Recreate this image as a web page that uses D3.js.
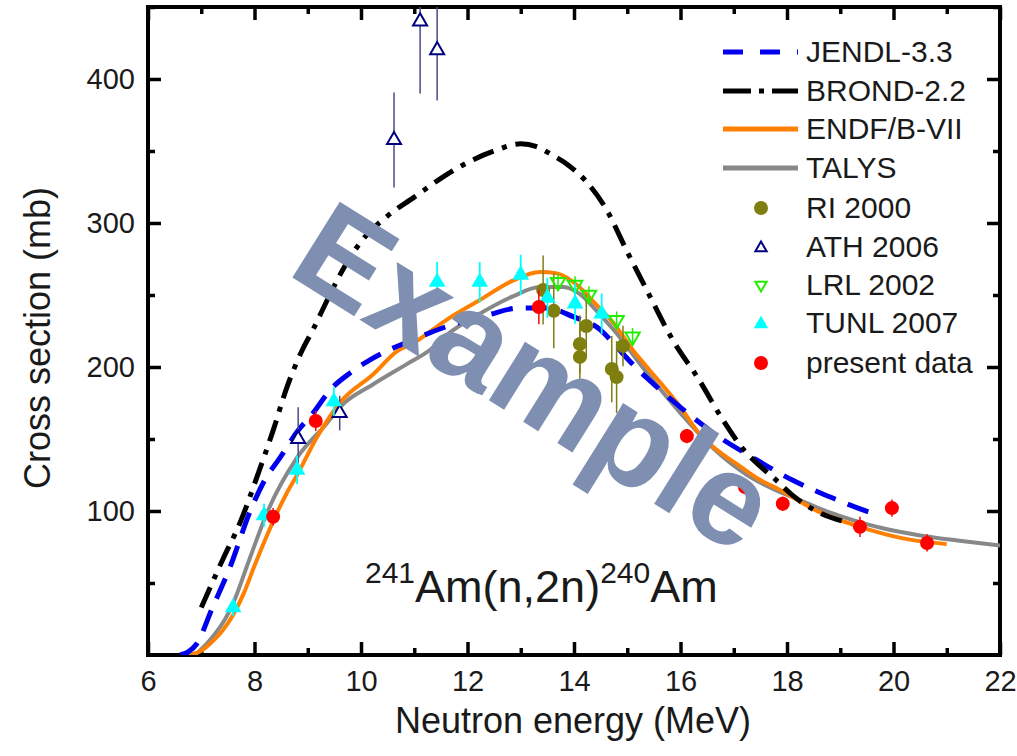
<!DOCTYPE html>
<html>
<head>
<meta charset="utf-8">
<script src="https://cdn.jsdelivr.net/npm/d3@7"></script>
<style>
  html, body { margin: 0; padding: 0; background: #fff; }
  svg { display: block; font-family: "Liberation Sans", Arial, Helvetica, sans-serif; }
</style>
</head>
<body>
<svg id="chart" width="1017" height="756"></svg>
<script>
// ---------- DATA ----------
const xTicksMajor = [6, 8, 10, 12, 14, 16, 18, 20, 22];
const xTicksMinor = [7, 9, 11, 13, 15, 17, 19, 21];
const yTicksMajor = [100, 200, 300, 400];
const yTicksMinor = [50, 150, 250, 350, 450];

const jendlE = [6.6, 6.75, 6.92, 7.2, 7.54, 7.92, 8.2, 8.48, 8.8, 9.1, 9.42, 9.8, 10.17, 10.98, 11.6, 12.37, 12.98, 13.49, 13.98, 14.49, 14.8, 15.1, 15.5, 16.0, 16.7, 17.36, 18.1, 18.86, 19.6, 19.75];
const jendlV = [0, 2, 8, 32, 61, 100, 122, 137, 155, 168, 184, 196, 205, 219, 228, 236, 241, 241, 235, 226, 214, 202, 188, 172, 152, 137, 121.5, 109, 98.6, 97];

const brondE = [7.0, 7.4, 7.73, 8.05, 8.35, 8.6, 8.9, 9.1, 9.36, 9.65, 10.0, 10.5, 11.0, 11.5, 12.0, 12.5, 13.0, 13.3, 13.6, 13.9, 14.2, 14.6, 15.0, 15.4, 15.85, 16.35, 16.8, 17.2, 17.5, 17.75, 18.1, 18.6, 19.15];
const brondV = [33, 66, 92, 124, 156, 185, 212, 226, 246, 267, 287, 305, 318, 331, 342, 350, 355, 353, 347, 340, 330, 310, 280, 251, 219, 191, 163, 142, 131, 123, 111, 99, 92];

const endfE = [6.8, 7.0, 7.2, 7.4, 7.6, 7.8, 8.0, 8.2, 8.4, 8.6, 8.8, 9.17, 9.6, 10.23, 10.68, 11.0, 11.6, 12.23, 12.85, 13.36, 13.68, 14.1, 14.4, 14.74, 15.1, 15.37, 16.0, 16.37, 16.6, 17.12, 17.5, 17.87, 18.62, 19.37, 20.18, 21.0];
const endfV = [0, 3, 9, 17, 28, 43, 62, 80, 97, 112, 125, 151, 175, 195, 211, 217, 232.6, 246.5, 260, 266, 265, 255.5, 244, 230.5, 212, 200, 172, 153, 145, 131, 121.5, 114.6, 99, 89, 81, 77];

const talysE = [6.6, 6.9, 7.0, 7.2, 7.48, 7.6, 7.9, 8.25, 8.8, 9.36, 9.6, 10.23, 10.86, 11.3, 11.6, 12.23, 12.85, 13.36, 13.8, 14.1, 14.45, 14.74, 15.37, 16.0, 16.6, 17.25, 17.7, 18.24, 18.8, 19.24, 19.8, 20.5, 21.2, 22.0];
const talysV = [0, 1, 4, 12, 27, 36, 66, 100, 137, 161, 172, 188, 202, 212, 222, 237, 249, 255.5, 255.5, 251, 238, 226, 196, 168, 144, 125, 116, 107.6, 99, 93.7, 88, 83, 79.5, 76];

const riE = [13.42, 13.62, 14.23, 14.11, 14.11, 14.71, 14.8, 14.92];
const riV = [253.5, 239, 228.5, 216, 207, 198.6, 193, 214.6];
const riErr = [24, 26, 22, 20, 20, 23, 25, 14];

const athE = [8.82, 9.6, 10.62, 11.11, 11.43];
const athV = [150, 168, 357.6, 440, 420];
const athErr = [22, 12, 33, 50, 35];

const lrlE = [13.7, 14.02, 14.28, 14.8, 15.1];
const lrlV = [259, 257, 250, 232.6, 221];
const lrlErr = [6, 6, 6, 6, 6];

const tunlE = [7.6, 8.18, 8.8, 9.49, 11.43, 12.23, 13.0, 13.5, 14.02, 14.52];
const tunlV = [33, 97, 128.5, 176, 259, 259, 264, 248, 244, 237];
const tunlErr = [6, 8, 10, 10, 14, 14, 14, 14, 14, 14];

const presE = [8.35, 9.15, 13.34, 16.12, 17.21, 17.92, 19.37, 19.97, 20.63];
const presV = [96, 162.5, 241.7, 152, 116.7, 105, 89, 102, 77.8];
const presErr = [6, 7, 12, 5, 5, 5, 7, 6, 6];

const legendLabels = ["JENDL-3.3", "BROND-2.2", "ENDF/B-VII", "TALYS", "RI 2000", "ATH 2006", "LRL 2002", "TUNL 2007", "present data"];

// ---------- LAYOUT ----------
const svg = d3.select("#chart");
const L = 148, R = 1000, T = 7, B = 655;
const x = d3.scaleLinear().domain([6, 22]).range([L, R]);
const y = d3.scaleLinear().domain([0, 450]).range([B, T]);

const COL = {
  jendl: "#0000ee", brond: "#000000", endf: "#ff8000", talys: "#888888",
  ri: "#7f7f10", ath: "#000080", athBar: "#4a4a8a", lrl: "#22ee00", tunl: "#00ffff", pres: "#ff0000"
};

svg.append("defs").append("clipPath").attr("id", "plotclip")
  .append("rect").attr("x", L).attr("y", T).attr("width", R - L).attr("height", B - T);

// ---------- AXES ----------
function styleAxis(g, w) {
  g.select(".domain").remove();
  g.selectAll(".tick line").attr("stroke", "#000").attr("stroke-width", w);
  g.selectAll(".tick text").attr("fill", "#1a1a1a").attr("font-size", 29)
    .attr("font-family", "'Liberation Sans', Arial, sans-serif");
}
svg.append("g").attr("transform", `translate(0,${B})`)
  .call(d3.axisBottom(x).tickValues(xTicksMajor).tickSizeInner(-13).tickSizeOuter(0).tickPadding(15).tickFormat(d3.format("d")))
  .call(g => styleAxis(g, 3.5));
svg.append("g").attr("transform", `translate(0,${B})`)
  .call(d3.axisBottom(x).tickValues(xTicksMinor).tickSizeInner(-7).tickSizeOuter(0).tickFormat(""))
  .call(g => styleAxis(g, 3.5));
svg.append("g").attr("transform", `translate(0,${T})`)
  .call(d3.axisTop(x).tickValues(xTicksMajor).tickSizeInner(-13).tickSizeOuter(0).tickFormat(""))
  .call(g => styleAxis(g, 3.5));
svg.append("g").attr("transform", `translate(0,${T})`)
  .call(d3.axisTop(x).tickValues(xTicksMinor).tickSizeInner(-7).tickSizeOuter(0).tickFormat(""))
  .call(g => styleAxis(g, 3.5));
svg.append("g").attr("transform", `translate(${L},0)`)
  .call(d3.axisLeft(y).tickValues(yTicksMajor).tickSizeInner(-13).tickSizeOuter(0).tickPadding(13).tickFormat(d3.format("d")))
  .call(g => styleAxis(g, 3.5));
svg.append("g").attr("transform", `translate(${L},0)`)
  .call(d3.axisLeft(y).tickValues(yTicksMinor).tickSizeInner(-7).tickSizeOuter(0).tickFormat(""))
  .call(g => styleAxis(g, 3.5));
svg.append("g").attr("transform", `translate(${R},0)`)
  .call(d3.axisRight(y).tickValues(yTicksMajor).tickSizeInner(-13).tickSizeOuter(0).tickFormat(""))
  .call(g => styleAxis(g, 3.5));
svg.append("g").attr("transform", `translate(${R},0)`)
  .call(d3.axisRight(y).tickValues(yTicksMinor).tickSizeInner(-7).tickSizeOuter(0).tickFormat(""))
  .call(g => styleAxis(g, 3.5));

// frame
svg.append("rect").attr("x", L).attr("y", T).attr("width", R - L).attr("height", B - T)
  .attr("fill", "none").attr("stroke", "#000").attr("stroke-width", 4);

// axis titles
svg.append("text").attr("x", 573).attr("y", 733).attr("text-anchor", "middle")
  .attr("font-size", 36).attr("fill", "#1a1a1a").text("Neutron energy (MeV)");
svg.append("text").attr("transform", "translate(50,338) rotate(-90)").attr("text-anchor", "middle")
  .attr("font-size", 36).attr("fill", "#1a1a1a").text("Cross section (mb)");

// ---------- CURVES ----------
const plot = svg.append("g").attr("clip-path", "url(#plotclip)");
const line = d3.line().x(d => x(d[0])).y(d => y(d[1])).curve(d3.curveMonotoneX);
function curve(E, V, color, dash, w) {
  plot.append("path").datum(d3.zip(E, V)).attr("d", line)
    .attr("fill", "none").attr("stroke", color).attr("stroke-width", w)
    .attr("stroke-dasharray", dash).attr("stroke-linejoin", "round");
}
curve(talysE, talysV, COL.talys, null, 4);
curve(endfE, endfV, COL.endf, null, 4);
curve(jendlE, jendlV, COL.jendl, "22,13", 5);
curve(brondE, brondV, COL.brond, "22,9,5,9", 5);

// ---------- MARKERS ----------
const sym = (type, size) => d3.symbol().type(type).size(size)();
const triUp = d3.symbolTriangle;
function errBars(E, V, Er, color, w) {
  plot.append("g").selectAll("line").data(d3.zip(E, V, Er)).join("line")
    .attr("x1", d => x(d[0])).attr("x2", d => x(d[0]))
    .attr("y1", d => y(d[1] - d[2])).attr("y2", d => y(d[1] + d[2]))
    .attr("stroke", color).attr("stroke-width", w);
}
// RI 2000
errBars(riE, riV, riErr, COL.ri, 1.5);
plot.append("g").selectAll("circle").data(d3.zip(riE, riV)).join("circle")
  .attr("cx", d => x(d[0])).attr("cy", d => y(d[1])).attr("r", 7).attr("fill", COL.ri);
// ATH 2006
errBars(athE, athV, athErr, COL.athBar, 1.5);
plot.append("g").selectAll("path").data(d3.zip(athE, athV)).join("path")
  .attr("d", sym(triUp, 85)).attr("transform", d => `translate(${x(d[0])},${y(d[1])})`)
  .attr("fill", "#fff").attr("stroke", COL.ath).attr("stroke-width", 2);
// LRL 2002
errBars(lrlE, lrlV, lrlErr, COL.lrl, 1.5);
plot.append("g").selectAll("path").data(d3.zip(lrlE, lrlV)).join("path")
  .attr("d", sym(triUp, 90)).attr("transform", d => `translate(${x(d[0])},${y(d[1])}) rotate(180)`)
  .attr("fill", "none").attr("stroke", COL.lrl).attr("stroke-width", 2);
// TUNL 2007
errBars(tunlE, tunlV, tunlErr, COL.tunl, 1.8);
plot.append("g").selectAll("path").data(d3.zip(tunlE, tunlV)).join("path")
  .attr("d", sym(triUp, 120)).attr("transform", d => `translate(${x(d[0])},${y(d[1])})`)
  .attr("fill", COL.tunl);
// present data
errBars(presE, presV, presErr, COL.pres, 1.5);
plot.append("g").selectAll("circle").data(d3.zip(presE, presV)).join("circle")
  .attr("cx", d => x(d[0])).attr("cy", d => y(d[1])).attr("r", 7).attr("fill", COL.pres);

// ---------- ANNOTATION ----------
const ann = svg.append("text").attr("x", 365).attr("y", 602).attr("fill", "#1a1a1a");
ann.append("tspan").attr("font-size", 30).attr("dy", -19).text("241");
ann.append("tspan").attr("font-size", 45).attr("dy", 19).text("Am(n,2n)");
ann.append("tspan").attr("font-size", 30).attr("dy", -19).text("240");
ann.append("tspan").attr("font-size", 45).attr("dy", 19).text("Am");

// ---------- LEGEND ----------
const legY = [52, 91, 129, 168, 208, 247, 285, 323, 363];
const lg = svg.append("g");
const lineStyles = [
  { c: COL.jendl, d: "20,17", w: 5 },
  { c: COL.brond, d: "28,8,5,8", w: 5 },
  { c: COL.endf, d: null, w: 5 },
  { c: COL.talys, d: null, w: 5 }
];
lineStyles.forEach((s, i) => {
  lg.append("line").attr("x1", 723).attr("x2", 798).attr("y1", legY[i]).attr("y2", legY[i])
    .attr("stroke", s.c).attr("stroke-width", s.w).attr("stroke-dasharray", s.d);
});
const mx = 761;
lg.append("circle").attr("cx", mx).attr("cy", legY[4]).attr("r", 7).attr("fill", COL.ri);
lg.append("path").attr("d", sym(triUp, 55)).attr("transform", `translate(${mx},${legY[5] + 1})`)
  .attr("fill", "#fff").attr("stroke", COL.ath).attr("stroke-width", 2);
lg.append("path").attr("d", sym(triUp, 55)).attr("transform", `translate(${mx},${legY[6]}) rotate(180)`)
  .attr("fill", "none").attr("stroke", COL.lrl).attr("stroke-width", 2);
lg.append("path").attr("d", sym(triUp, 90)).attr("transform", `translate(${mx},${legY[7] + 1})`)
  .attr("fill", COL.tunl);
lg.append("circle").attr("cx", mx).attr("cy", legY[8]).attr("r", 7).attr("fill", COL.pres);
lg.selectAll("text.leg").data(legendLabels).join("text").attr("class", "leg")
  .attr("x", 806).attr("y", (d, i) => legY[i] + 10).attr("font-size", 30).attr("fill", "#1a1a1a")
  .text(d => d);

// ---------- WATERMARK ----------
svg.append("text").attr("transform", "translate(285,273) rotate(32)")
  .attr("font-size", 130).attr("font-weight", "bold").attr("fill", "#7f8fb1")
  .text("Example");
</script>
</body>
</html>
